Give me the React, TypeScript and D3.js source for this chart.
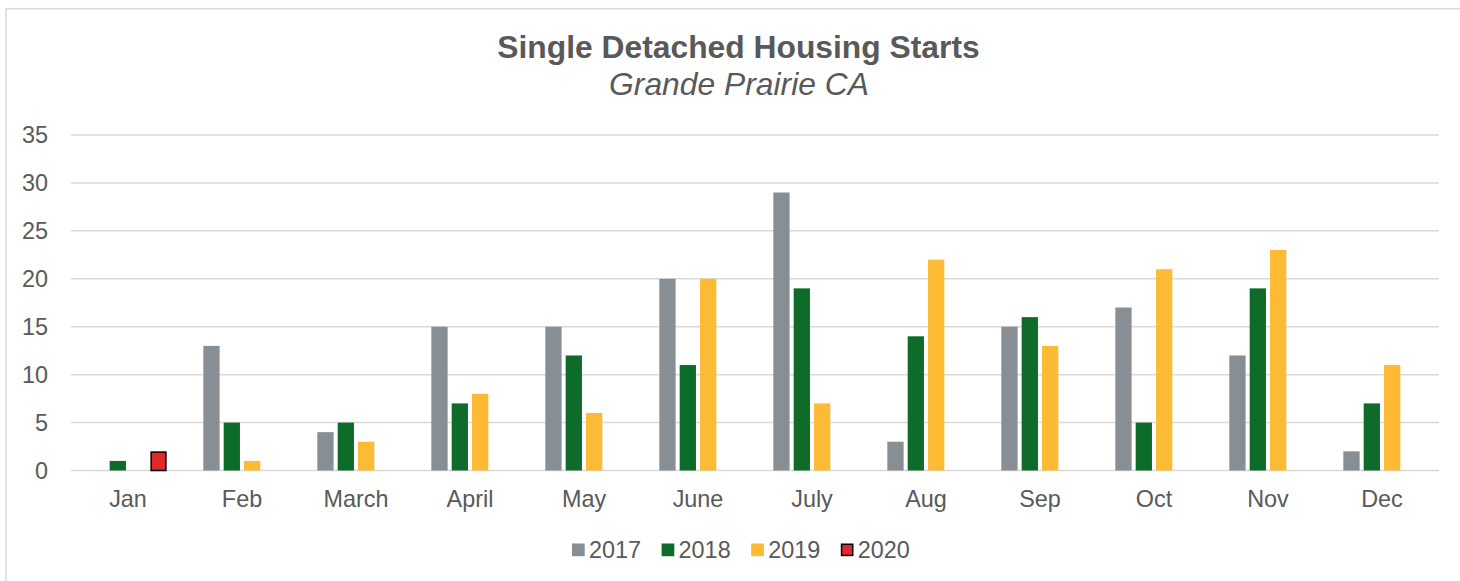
import React from "react";
import * as d3 from "d3";

const months = ["Jan", "Feb", "March", "April", "May", "June", "July", "Aug", "Sep", "Oct", "Nov", "Dec"];
const years = ["2017", "2018", "2019", "2020"];
const s2017: (number | null)[] = [null, 13, 4, 15, 15, 20, 29, 3, 15, 17, 12, 2];
const s2018: (number | null)[] = [1, 5, 5, 7, 12, 11, 19, 14, 16, 5, 19, 7];
const s2019: (number | null)[] = [null, 1, 3, 8, 6, 20, 7, 22, 13, 21, 23, 11];
const s2020: (number | null)[] = [2, null, null, null, null, null, null, null, null, null, null, null];
const yTicks = [0, 5, 10, 15, 20, 25, 30, 35];
const colors = ["#878E94", "#0E6B2A", "#FDBA35", "#E3282A"];
const strokes = ["none", "none", "none", "#000000"];

const W = 1460;
const H = 581;
const FONT = "'Liberation Sans', Arial, sans-serif";
const TEXT = "#595959";

export default function App() {
  const series = [s2017, s2018, s2019, s2020];
  const x0 = d3.scaleBand<string>().domain(months).range([71, 1439]).padding(0);
  const x1 = d3
    .scaleBand<string>()
    .domain(years)
    .range([0, x0.bandwidth()])
    .paddingInner(0.2)
    .paddingOuter(0.9);
  const y = d3.scaleLinear().domain([0, 35]).range([470.5, 135]);

  return (
    <svg width={W} height={H} style={{ position: "absolute", left: 0, top: 0 }} fontFamily={FONT}>
      <rect x={0} y={0} width={W} height={H} fill="#fff" />
      <rect x={6} y={8.7} width={W + 10} height={H + 10} fill="none" stroke="#D9D9D9" strokeWidth={1.5} />
      <text x={738.5} y={58} textAnchor="middle" fontSize={31.8} fontWeight="bold" fill={TEXT}>
        Single Detached Housing Starts
      </text>
      <text x={739} y={95} textAnchor="middle" fontSize={31.8} fontStyle="italic" fill={TEXT}>
        Grande Prairie CA
      </text>
      {yTicks.map((t) => (
        <g key={t}>
          <line x1={71} x2={1439} y1={y(t)} y2={y(t)} stroke="#D9D9D9" strokeWidth={1.5} />
          <text x={48} y={y(t) + 8} textAnchor="end" fontSize={23.4} fill={TEXT}>
            {t}
          </text>
        </g>
      ))}
      {months.map((m, i) => (
        <g key={m} transform={`translate(${x0(m)},0)`}>
          {series.map((s, k) => {
            const v = s[i];
            if (v == null) return null;
            const yr = years[k];
            const isRed = k === 3;
            return (
              <rect
                key={yr}
                x={x1(yr)! + (isRed ? 0.75 : 0)}
                y={y(v) + (isRed ? 0.75 : 0)}
                width={x1.bandwidth() - (isRed ? 1.5 : 0)}
                height={y(0) - y(v) - (isRed ? 0.75 : 0)}
                fill={colors[k]}
                stroke={strokes[k]}
                strokeWidth={isRed ? 1.5 : 0}
              />
            );
          })}
          <text x={x0.bandwidth() / 2} y={507} textAnchor="middle" fontSize={23.4} fill={TEXT}>
            {m}
          </text>
        </g>
      ))}
      {years.map((yr, k) => {
        const lx = 572 + k * 89.6;
        return (
          <g key={yr} transform={`translate(${lx},0)`}>
            <rect
              x={k === 3 ? 0.75 : 0}
              y={543.5 + (k === 3 ? 0.75 : 0)}
              width={12.7 - (k === 3 ? 1.5 : 0)}
              height={12.7 - (k === 3 ? 1.5 : 0)}
              fill={colors[k]}
              stroke={strokes[k]}
              strokeWidth={k === 3 ? 1.5 : 0}
            />
            <text x={17} y={558} fontSize={23.4} fill={TEXT}>
              {yr}
            </text>
          </g>
        );
      })}
    </svg>
  );
}
